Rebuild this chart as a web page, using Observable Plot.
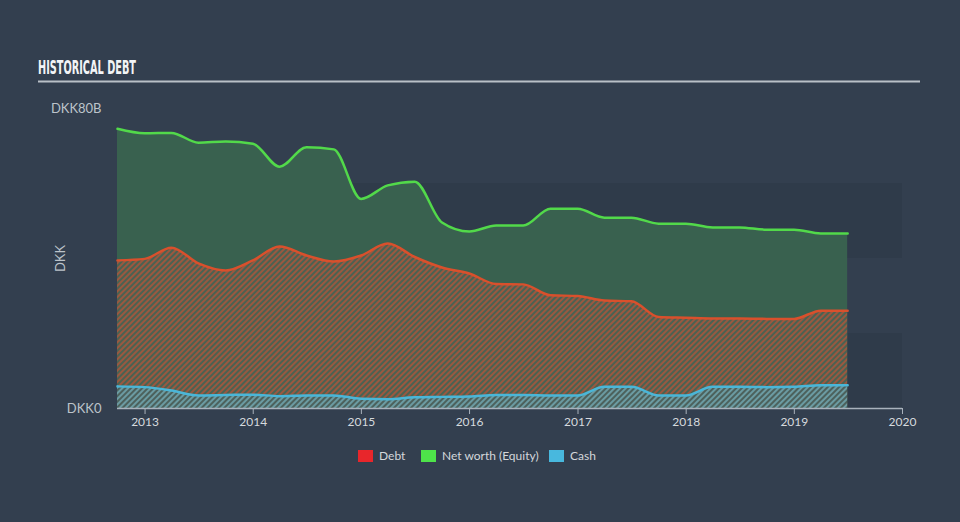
<!DOCTYPE html>
<html><head><meta charset="utf-8">
<script src="https://cdn.jsdelivr.net/npm/d3@7"></script>
<script src="https://cdn.jsdelivr.net/npm/@observablehq/plot@0.6"></script>
<style>
html,body{margin:0;padding:0;background:#333f4f;width:960px;height:522px;overflow:hidden;font-family:Lato,"Open Sans",sans-serif;}
#wrap{position:relative;width:960px;height:522px;}
#chart{position:absolute;left:0;top:0;}
#title{position:absolute;left:0;top:0;}
.item{position:absolute;top:448px;display:flex;align-items:center;font-size:12px;color:#d3d7db;white-space:nowrap;}
.sw{width:15px;height:12px;margin-right:6px;}
</style>
</head><body>
<div id="wrap">
  <div id="chart"></div>
  <svg id="title" width="960" height="90">
    <text x="38" y="74" textLength="98" lengthAdjust="spacingAndGlyphs" fill="#f2f4f6" font-family="'Liberation Sans Narrow','DejaVu Sans Condensed',sans-serif" font-weight="bold" font-size="19">HISTORICAL DEBT</text>
    <line x1="38" x2="920" y1="81.5" y2="81.5" stroke="#b9c0c7" stroke-width="2"/>
  </svg>
  <div id="legend"></div>
</div>
<script>
const dates = ["2012-09-30","2012-12-31","2013-03-31","2013-06-30","2013-09-30","2013-12-31","2014-03-31","2014-06-30","2014-09-30","2014-12-31","2015-03-31","2015-06-30","2015-09-30","2015-12-31","2016-03-31","2016-06-30","2016-09-30","2016-12-31","2017-03-31","2017-06-30","2017-09-30","2017-12-31","2018-03-31","2018-06-30","2018-09-30","2018-12-31","2019-03-31","2019-06-30"];
const equity = [74.6,73.4,73.5,70.9,71.2,70.6,64.5,69.7,69.1,55.9,59.5,60.5,49.6,47.2,48.8,48.8,53.3,53.3,50.9,50.9,49.3,49.3,48.3,48.3,47.7,47.7,46.7,46.7];
const debt = [39.5,39.9,42.9,38.7,36.8,39.5,43.2,40.8,39.2,40.8,44.0,40.4,37.6,36.0,33.2,33.1,30.2,30.0,28.8,28.6,24.4,24.2,24.0,24.0,23.9,23.9,26.1,26.1];
const cash = [5.9,5.7,4.8,3.5,3.6,3.7,3.3,3.5,3.5,2.6,2.5,3.0,3.1,3.2,3.6,3.6,3.5,3.5,5.8,5.8,3.5,3.5,5.8,5.8,5.7,5.8,6.2,6.2];
const yTicks = [0, 80];
const bandEdges = [0, 20, 40, 60];
const xTickYears = ["2013","2014","2015","2016","2017","2018","2019","2020"];
const legendItems = [
  {name: "Debt", color: "#e8262b"},
  {name: "Net worth (Equity)", color: "#4ee34a"},
  {name: "Cash", color: "#48b8de"}
];

const rows = dates.map((d, i) => ({date: new Date(d), equity: equity[i], debt: debt[i], cash: cash[i]}));
const bands = [];
for (let i = 0; i < bandEdges.length; i += 2) bands.push({y1: bandEdges[i], y2: bandEdges[i + 1]});
const xTicks = xTickYears.map(y => new Date(y + "-01-01"));
const xStart = rows[0].date;

const curve = "monotone-x";
const plot = Plot.plot({
  width: 960,
  height: 440,
  marginLeft: 117,
  marginRight: 58,
  marginTop: 108,
  marginBottom: 32,
  style: {background: "transparent", fontFamily: "Lato, 'Open Sans', sans-serif", fontSize: "12px", color: "#c4cad0"},
  x: {type: "utc", domain: [xStart, xTicks[xTicks.length - 1]]},
  y: {domain: [yTicks[0], yTicks[yTicks.length - 1]]},
  marks: [
    Plot.rect(bands, {x1: xStart, x2: xTicks[xTicks.length - 1], y1: "y1", y2: "y2", fill: "#1f2a38", fillOpacity: 0.18}),
    Plot.areaY(rows, {x: "date", y: "equity", fill: "#39614f", curve}),
    Plot.areaY(rows, {x: "date", y: "debt", fill: "url(#hatchDebt)", curve}),
    Plot.areaY(rows, {x: "date", y: "cash", fill: "url(#hatchCash)", curve}),
    Plot.lineY(rows, {x: "date", y: "equity", stroke: "#52d94a", strokeWidth: 2.5, curve}),
    Plot.lineY(rows, {x: "date", y: "debt", stroke: "#d9502c", strokeWidth: 2.5, curve}),
    Plot.lineY(rows, {x: "date", y: "cash", stroke: "#4ab6d8", strokeWidth: 2.5, curve}),
    Plot.ruleY([0], {stroke: "#a9b2bc", strokeWidth: 1.5}),
    Plot.axisX({ticks: xTicks, tickFormat: d3.utcFormat("%Y"), tickSize: 6, tickPadding: 3, stroke: "#a9b2bc", fill: "#d6dade", fontSize: 12, label: null}),
    Plot.axisY({ticks: yTicks, tickFormat: d => d === 0 ? "DKK0" : `DKK${d}B`, tickSize: 0, tickPadding: 16, fill: "#bcc3ca", fontSize: 13, label: "DKK", labelAnchor: "center", labelOffset: 62, labelArrow: "none"})
  ]
});

const svg = d3.select(plot);
const defs = svg.insert("defs", ":first-child");
const pd = defs.append("pattern").attr("id", "hatchDebt").attr("width", 4).attr("height", 4)
  .attr("patternUnits", "userSpaceOnUse").attr("patternTransform", "rotate(45)");
pd.append("rect").attr("width", 4).attr("height", 4).attr("fill", "#4a6252");
pd.append("rect").attr("width", 2).attr("height", 4).attr("fill", "#9a5840");
const pc = defs.append("pattern").attr("id", "hatchCash").attr("width", 4).attr("height", 4)
  .attr("patternUnits", "userSpaceOnUse").attr("patternTransform", "rotate(45)");
pc.append("rect").attr("width", 4).attr("height", 4).attr("fill", "#4c615c");
pc.append("rect").attr("width", 2).attr("height", 4).attr("fill", "#6b9ba2");

document.getElementById("chart").appendChild(plot);

const legendLefts = [358, 421, 549];
const legend = document.getElementById("legend");
legendItems.forEach((it, i) => {
  const el = document.createElement("div");
  el.className = "item";
  el.style.left = legendLefts[i] + "px";
  el.innerHTML = `<div class="sw" style="background:${it.color}"></div><span>${it.name}</span>`;
  legend.appendChild(el);
});
</script>
</body></html>
